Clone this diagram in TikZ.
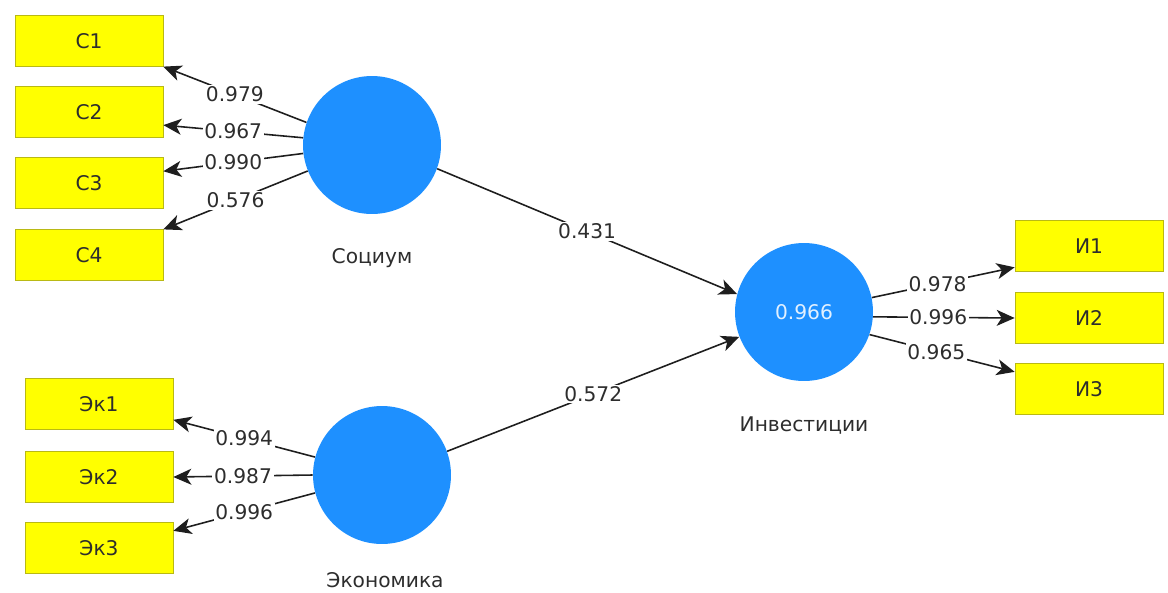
\documentclass[tikz,border=0pt]{standalone}
\usepackage{fontspec}
\setmainfont{DejaVu Sans}
\usetikzlibrary{arrows.meta}
\definecolor{boxyellow}{RGB}{255,255,0}
\definecolor{boxedge}{RGB}{185,185,20}
\definecolor{lvblue}{RGB}{30,144,255}
\definecolor{pathgray}{RGB}{30,30,30}
\definecolor{txtgray}{RGB}{45,45,45}

\begin{document}
\begin{tikzpicture}[x=0.02cm,y=-0.02cm,
  every node/.style={font=\fontsize{11.5}{13}\selectfont,text=txtgray},
  ind/.style={draw=boxedge,fill=boxyellow,minimum width=2.96cm,minimum height=1.02cm,inner sep=0pt},
  lv/.style={circle,fill=lvblue,minimum size=2.76cm,inner sep=0pt},
  load/.style={draw=pathgray,line width=0.9pt,-{Stealth[length=3.6mm,width=3.2mm,inset=1mm]}},
  coef/.style={fill=white,inner sep=1pt,pos=0.5}]
\useasboundingbox (0,0) rectangle (1168,592);
\node[ind] (c1) at (89,41) {С1};
\node[ind] (c2) at (89,112) {С2};
\node[ind] (c3) at (89,183) {С3};
\node[ind] (c4) at (89,255) {С4};
\node[ind] (e1) at (99,404) {Эк1};
\node[ind] (e2) at (99,477) {Эк2};
\node[ind] (e3) at (99,548) {Эк3};
\node[ind] (i1) at (1089,246) {И1};
\node[ind] (i2) at (1089,318) {И2};
\node[ind] (i3) at (1089,389) {И3};
\node[lv] (soc) at (372,145) {};
\node[lv] (eco) at (382,475) {};
\node[lv,text={rgb,255:red,225;green,240;blue,255}] (inv) at (804,312) {0.966};
\node (socl) at (372,258) {Социум};
\node (ecol) at (385,580) {Экономика};
\node (invl) at (804,426) {Инвестиции};
\draw[load] (soc.161) -- node[coef]{0.979} (c1.-19);
\draw[load] (soc.174) -- node[coef]{0.967} (c2.-10);
\draw[load] (soc.187) -- node[coef]{0.990} (c3.9);
\draw[load] (soc.202) -- node[coef]{0.576} (c4.19);
\draw[load] (eco.165) -- node[coef]{0.994} (e1.-12);
\draw[load] (eco.180) -- node[coef]{0.987} (e2.east);
\draw[load] (eco.195) -- node[coef]{0.996} (e3.13);
\draw[load] (inv.12) -- node[coef,pos=0.46]{0.978} (i1.196);
\draw[load] (inv.-4) -- node[coef,pos=0.46]{0.996} (i2.west);
\draw[load] (inv.-19) -- node[coef,pos=0.46]{0.965} (i3.167);
\draw[load] (soc.-20) -- node[coef]{0.431} (inv.165);
\draw[load] (eco.20) -- node[coef]{0.572} (inv.-159);
\end{tikzpicture}
\end{document}
